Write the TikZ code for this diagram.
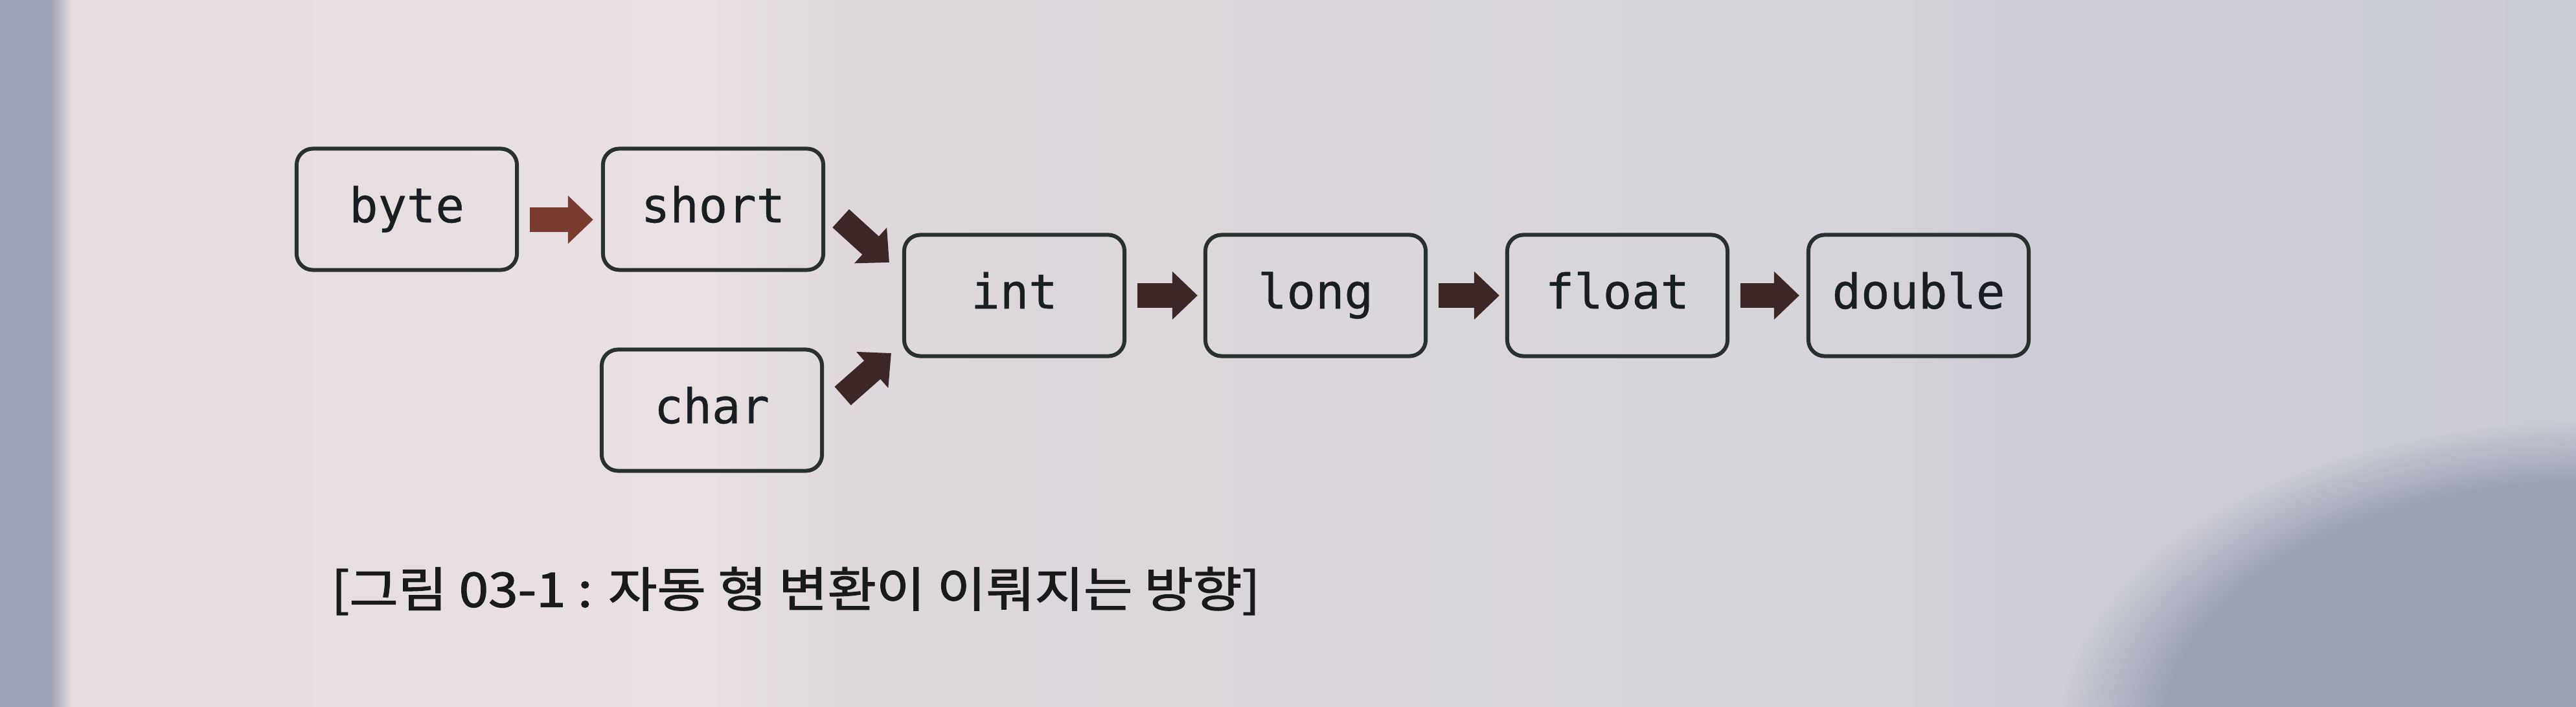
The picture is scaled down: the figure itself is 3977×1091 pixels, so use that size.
\documentclass[tikz,border=0pt]{standalone}
\usepackage{fontspec}
\usepackage{graphicx}
\setmonofont{DejaVu Sans Mono}[FakeBold=0.6]
\newfontfamily\krfont{Noto Sans CJK KR}[FakeBold=1.6]
\usetikzlibrary{arrows.meta,fadings}
\definecolor{bgA}{RGB}{160,164,184}
\definecolor{bgB}{RGB}{229,220,223}
\definecolor{bgC}{RGB}{232,224,226}
\definecolor{bgD}{RGB}{222,216,220}
\definecolor{bgE}{RGB}{214,212,218}
\definecolor{bgF}{RGB}{206,206,214}
\definecolor{bgG}{RGB}{202,204,213}
\definecolor{bgdark}{RGB}{156,162,180}
\definecolor{boxline}{RGB}{40,48,48}
\definecolor{txt}{RGB}{24,30,34}
\definecolor{arrred}{RGB}{122,60,48}
\definecolor{arrdark}{RGB}{60,38,38}
\definecolor{captxt}{RGB}{26,26,28}
\pgfdeclarehorizontalshading{paperbg}{100bp}{color(0bp)=(bgA); color(25bp)=(bgA); color(26bp)=(bgA); color(26.4bp)=(bgB); color(38.8bp)=(bgC); color(41.3bp)=(bgD); color(61.5bp)=(bgE); color(64bp)=(bgF); color(75bp)=(bgG); color(100bp)=(bgG)}
\begin{document}
\begin{tikzpicture}[x=0.01cm,y=-0.01cm,
  typebox/.style={draw=boxline, line width=0.06cm, rounded corners=0.25cm,
    minimum width=3.40cm, minimum height=1.87cm, inner sep=0pt,
    font=\ttfamily\fontsize{21}{25}\selectfont, text=txt,
    text height=11.4pt, text depth=0pt},
  barrow/.style={draw=arrdark, line width=0.38cm,
    -{Triangle[width=0.72cm,length=0.39cm]}}]
\useasboundingbox (0,0) rectangle (3977,1091);
\clip (0,0) rectangle (3977,1091);
\shade[shading=paperbg] (0,0) rectangle (3977,1091);
\fill[bgdark, path fading=circle with fuzzy edge 20 percent] (4000,1130) ellipse (820 and 480);

\node[typebox] (byte)   at (628,323)  {byte};
\node[typebox] (short)  at (1101,323) {short};
\node[typebox] (char)   at (1099,633) {char};
\node[typebox] (int)    at (1566,456) {int};
\node[typebox] (long)   at (2031,456) {long};
\node[typebox] (float)  at (2497,456) {float};
\node[typebox] (double) at (2962,456) {double};

\draw[barrow, draw=arrred, shorten <=0.17cm, shorten >=0.12cm]
  ([yshift=-0.16cm]byte.east) -- ([yshift=-0.16cm]short.west);
\draw[barrow] ([shift={(24,14)}]short.east) -- ([shift={(-20,-51)}]int.west);
\draw[barrow] ([shift={(29,-22)}]char.east) -- ([shift={(-17,89)}]int.west);
\draw[barrow, shorten <=0.17cm, shorten >=0.09cm] (int) -- (long);
\draw[barrow, shorten <=0.17cm, shorten >=0.09cm] (long) -- (float);
\draw[barrow, shorten <=0.17cm, shorten >=0.11cm] (float) -- (double);

\node[anchor=west, inner sep=0pt, text=captxt,
  font=\krfont\fontsize{21}{25}\selectfont] (cap) at (511,912)
  {\scalebox{1.11}[1]{[그림 03-1 : 자동 형 변환이 이뤄지는 방향]}};
\end{tikzpicture}
\end{document}
